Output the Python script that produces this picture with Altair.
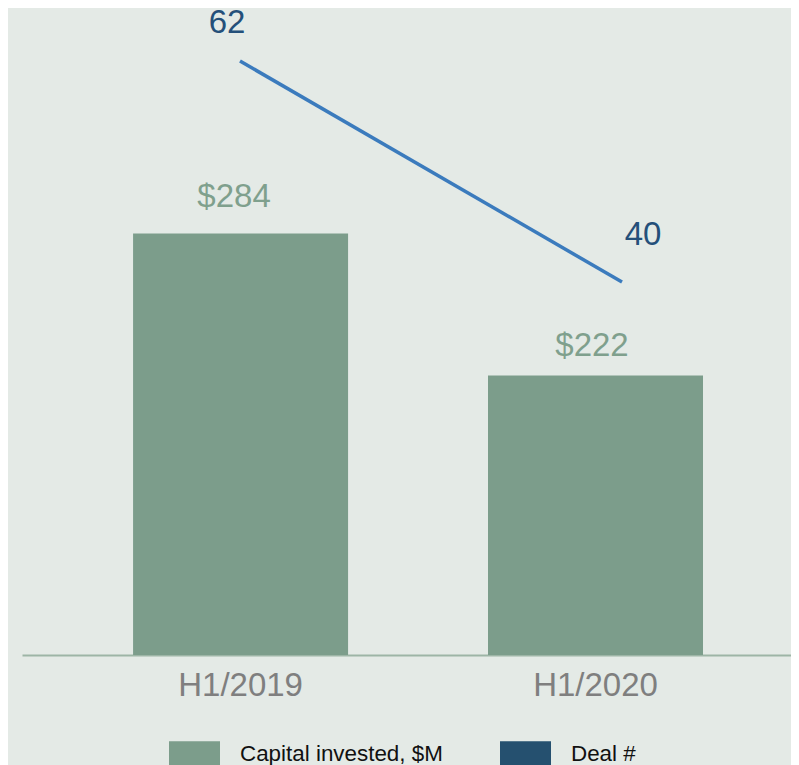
import altair as alt
import pandas as pd

# ---- data ----
categories = ["H1/2019", "H1/2020"]
capital_invested = [284, 222]
capital_labels = ["$284", "$222"]
deal_counts = [62, 40]
series_names = ["Capital invested, $M", "Deal #"]

# ---- styling ----
BG = "#e4eae6"
BAR = "#7c9d8b"
BAR_LABEL = "#7fa08d"
LINE = "#3b7bbd"
LINE_LABEL = "#24507a"
LEGEND_BLUE = "#25506f"
AXIS_LABEL = "#7f7f7f"
DOMAIN = "#9db5a6"
FONT = "Liberation Sans"

df = pd.DataFrame({
    "period": categories,
    "capital": capital_invested,
    "cap_label": capital_labels,
    "deals": deal_counts,
    "deal_label": [str(d) for d in deal_counts],
    "series": [series_names[0]] * len(categories),
})

W, H = 769, 645

def band_x(axis=None):
    return alt.X(
        "period:N",
        sort=categories,
        scale=alt.Scale(type="band", domain=categories, paddingInner=0.394,
                        paddingOuter=0.2803, align=0.558),
        axis=axis,
        title=None,
    )

def point_x():
    return alt.X(
        "period:N",
        sort=categories,
        scale=alt.Scale(type="point", domain=categories, padding=0.5065, align=0.5633),
        axis=None,
        title=None,
    )

bar_scale = alt.Scale(domain=[100, 381.5], zero=False, nice=False)
line_scale = alt.Scale(domain=[2.87, 67.08], zero=False, nice=False)

x_axis = alt.Axis(
    labelFontSize=33, labelColor=AXIS_LABEL, labelFont=FONT, labelAngle=0,
    ticks=False, tickSize=0, labelPadding=14, domainColor=DOMAIN, domainWidth=2,
    grid=False, labelBaseline="top",
)

legend = alt.Legend(
    orient="none", legendX=147, legendY=718, direction="horizontal", title=None,
    symbolType="M-1,-0.5H1V0.5H-1Z", symbolSize=2601, symbolStrokeWidth=0,
    symbolOpacity=1, labelFontSize=22.4, labelFont=FONT, labelColor="#111111",
    labelOffset=20, columnPadding=57, padding=0, labelLimit=400,
)

bars = alt.Chart(df).mark_bar(size=215).encode(
    x=band_x(x_axis),
    y=alt.Y("capital:Q", scale=bar_scale, axis=None),
    y2=alt.datum(100),
    color=alt.Color("series:N",
                    scale=alt.Scale(domain=series_names, range=[BAR, LEGEND_BLUE]),
                    legend=legend),
)

bar_offsets = [(-6.5, -26), (-3.5, -19)]
bar_texts = []
for cat, (dx, dy) in zip(categories, bar_offsets):
    bar_texts.append(
        alt.Chart(df).transform_filter(alt.datum.period == cat).mark_text(
            fontSize=33, font=FONT, color=BAR_LABEL, baseline="alphabetic",
            align="center", dx=dx, dy=dy,
        ).encode(
            x=band_x(),
            y=alt.Y("capital:Q", scale=bar_scale, axis=None),
            text="cap_label:N",
        )
    )

line = alt.Chart(df).mark_line(color=LINE, strokeWidth=3.5, strokeCap="butt").encode(
    x=point_x(),
    y=alt.Y("deals:Q", scale=line_scale, axis=None),
)

line_offsets = [(-13, -28), (21, -37)]
line_texts = []
for cat, (dx, dy) in zip(categories, line_offsets):
    line_texts.append(
        alt.Chart(df).transform_filter(alt.datum.period == cat).mark_text(
            fontSize=33, font=FONT, color=LINE_LABEL, baseline="alphabetic",
            align="center", dx=dx, dy=dy,
        ).encode(
            x=point_x(),
            y=alt.Y("deals:Q", scale=line_scale, axis=None),
            text="deal_label:N",
        )
    )

chart = alt.layer(bars, *bar_texts, line, *line_texts).resolve_scale(
    x="independent", y="independent"
).properties(
    width=W, height=H,
    padding={"left": 14, "top": 2, "right": 0, "bottom": 110},
    autosize=alt.AutoSizeParams(type="none"),
    background=BG,
).configure_view(stroke=None)

chart.save("out.html", embed_options={"renderer": "svg", "actions": False})
